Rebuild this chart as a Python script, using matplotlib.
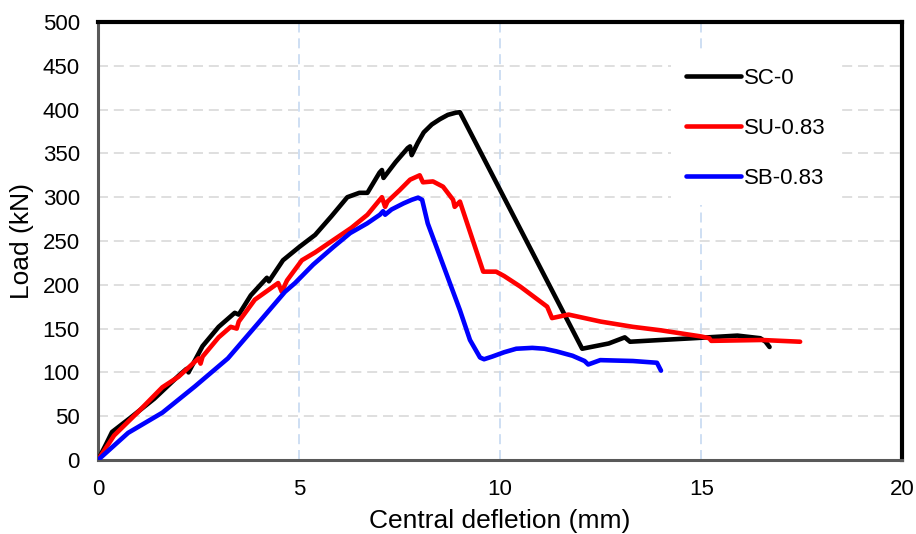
import matplotlib
matplotlib.use("Agg")
import matplotlib.pyplot as plt

plt.rcParams['font.family'] = ['Liberation Sans', 'DejaVu Sans']

# Load-deflection curves (deflection in mm, load in kN)
sc0_x = [0.0, 0.2, 0.35, 0.8, 1.4, 2.0, 2.2, 2.25, 2.6, 3.0, 3.4, 3.5, 3.8, 4.2, 4.25, 4.6,
         5.0, 5.4, 5.8, 6.2, 6.5, 6.7, 7.0, 7.06, 7.1, 7.4, 7.7, 7.76, 7.8, 7.95, 8.1, 8.3,
         8.5, 8.7, 8.9, 9.0,
         12.04, 12.7, 13.1, 13.23, 14.0, 14.8, 15.9, 16.47, 16.6, 16.7]
sc0_y = [0, 18, 32, 48, 70, 96, 104, 100, 130, 152, 168, 166, 188, 208, 204, 228,
         243, 257, 278, 300, 305, 305, 328, 331, 322, 340, 356, 358, 348, 362, 374, 383,
         389, 394, 396.5, 397,
         127, 133, 140, 135, 137, 139, 142, 139, 135, 129]

su_x = [0.0, 0.4, 1.0, 1.6, 2.0, 2.5, 2.55, 2.6, 3.0, 3.3, 3.45, 3.5, 3.9, 4.48, 4.57, 4.7,
        5.07, 5.4, 5.85, 6.3, 6.7, 7.06, 7.14, 7.2, 7.5, 7.76, 8.0, 8.08, 8.33, 8.58, 8.83,
        8.87, 9.0, 9.58, 9.9, 10.1, 10.5, 11.17, 11.29, 11.7, 12.5, 13.3, 14.0, 15.0, 15.2,
        15.25, 16.5, 17.46]
su_y = [0, 28, 55, 83, 95, 116, 110, 118, 140, 152, 150, 158, 183, 202, 192, 205,
        228, 237, 251, 265, 280, 300, 289, 295, 308, 320, 325, 317, 318, 312, 297,
        289, 295, 215, 215, 210, 198, 175, 162, 166, 158, 152, 148, 141, 139,
        136, 137, 135]

sb_x = [0.0, 0.75, 1.6, 2.41, 3.23, 3.98, 4.65, 4.9, 5.35, 5.85, 6.27, 6.69, 7.01, 7.09,
        7.14, 7.3, 7.6, 7.8, 7.96, 8.06, 8.2, 9.0, 9.25, 9.5, 9.6, 9.8, 10.1, 10.4, 10.8,
        11.1, 11.4, 11.8, 12.1, 12.19, 12.49, 13.3, 13.9, 14.0]
sb_y = [0, 31, 54, 84, 116, 156, 192, 202, 223, 243, 259, 270, 280, 284,
        280, 286, 293, 297, 299.5, 297, 270, 171, 137, 117, 115, 118, 123, 127, 128,
        127, 124, 119, 113, 109, 114, 113, 111, 102]

series = [
    ("SC-0", sc0_x, sc0_y, "#000000"),
    ("SU-0.83", su_x, su_y, "#ff0000"),
    ("SB-0.83", sb_x, sb_y, "#0000ff"),
]

fig = plt.figure(figsize=(9.16, 5.34), dpi=100)
ax = fig.add_axes([0.107, 0.1386, 0.878, 0.8202])

for label, xs, ys, col in series:
    ax.plot(xs, ys, color=col, lw=3.3, label=label, solid_joinstyle='round',
            solid_capstyle='round', zorder=3)

ax.set_xlim(0, 20)
ax.set_ylim(0, 500)
ax.set_xticks(range(0, 21, 5))
ax.set_yticks(range(0, 501, 50))
ax.tick_params(axis='both', length=0, labelsize=16, colors='#000000')
ax.tick_params(axis='x', pad=14)
ax.tick_params(axis='y', pad=13)

# Gridlines: grey horizontal dashes, pale blue vertical dashes
for yv in range(50, 500, 50):
    ax.axhline(yv, color='#d9d9d9', lw=1.2, ls=(0, (6, 3.5)), zorder=1)
for xv in (5, 10, 15):
    ax.axvline(xv, color='#c6d9f1', lw=1.2, ls=(0, (6, 3.5)), zorder=1)

for side in ('left', 'bottom'):
    ax.spines[side].set_color('#595959')
    ax.spines[side].set_linewidth(2.2)
for side in ('top', 'right'):
    ax.spines[side].set_color('#000000')
    ax.spines[side].set_linewidth(3.0)

ax.set_xlabel("Central defletion (mm)", fontsize=19, labelpad=6)
ax.set_ylabel("Load (kN)", fontsize=19, labelpad=6)

leg = ax.legend(loc='upper left', bbox_to_anchor=(0.712, 0.9315), fontsize=16,
                frameon=True, fancybox=False, handlelength=2.48, handletextpad=0.1,
                labelspacing=1.32, borderpad=0.7, borderaxespad=0)
leg.get_frame().set_facecolor('white')
leg.get_frame().set_edgecolor('none')
leg.get_frame().set_alpha(1)
leg.set_zorder(2)
for h in leg.get_lines():
    h.set_linewidth(3.3)

fig.savefig("out.png", dpi=100)
